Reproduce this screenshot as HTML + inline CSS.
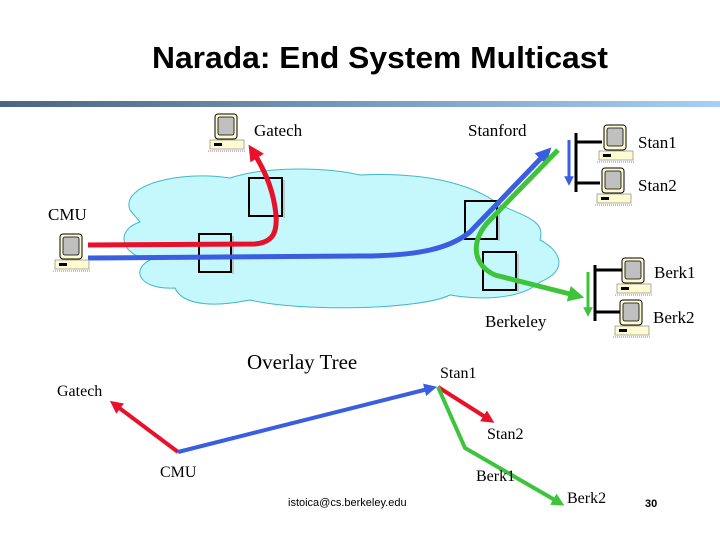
<!DOCTYPE html>
<html><head><meta charset="utf-8"><style>
html,body{margin:0;padding:0;background:#fff;width:720px;height:540px;overflow:hidden}
svg text{font-family:"Liberation Serif",serif}
</style></head><body>
<svg width="720" height="540" viewBox="0 0 720 540" xmlns="http://www.w3.org/2000/svg">
<defs>
<linearGradient id="g" x1="0" x2="1"><stop offset="0" stop-color="#4a6580"/><stop offset="1" stop-color="#a6d0f4"/></linearGradient>
<marker id="ar" viewBox="0 0 10 10" refX="6" refY="5" markerWidth="3.2" markerHeight="3.2" orient="auto"><path d="M0,0 L10,5 L0,10 z" fill="#e8102a"/></marker>
<marker id="ab" viewBox="0 0 10 10" refX="6" refY="5" markerWidth="3.2" markerHeight="3.2" orient="auto"><path d="M0,0 L10,5 L0,10 z" fill="#3a5ee0"/></marker>
<marker id="agr" viewBox="0 0 10 10" refX="6" refY="5" markerWidth="3.2" markerHeight="3.2" orient="auto"><path d="M0,0 L10,5 L0,10 z" fill="#3ec43a"/></marker>
<g id="pc">
<rect x="0" y="26" width="34" height="9" fill="#fffbd0" stroke="#888" stroke-width="0.7"/>
<rect x="4" y="29" width="8" height="3" fill="#000"/>
<rect x="5" y="0" width="22" height="25" rx="3" fill="#fffbd0" stroke="#000" stroke-width="1"/>
<rect x="8" y="3" width="16" height="18" rx="2" fill="#c0c0c0" stroke="#000" stroke-width="0.8"/>
<line x1="-2" y1="37" x2="36" y2="37" stroke="#c8a0c8" stroke-dasharray="1 1" stroke-width="1.5"/>
</g>
</defs>
<text x="380" y="68" text-anchor="middle" textLength="456" lengthAdjust="spacingAndGlyphs" style="font-family:'Liberation Sans',sans-serif;font-size:31px;font-weight:bold">Narada: End System Multicast</text>
<rect x="0" y="101" width="720" height="6" fill="url(#g)"/>
<path d="M130,210 C120,185 180,170 230,178 C270,165 330,168 360,175 C420,172 470,182 500,205 C530,218 545,222 540,240 C560,250 570,270 540,282 C520,300 480,300 450,295 C420,310 300,312 250,300 C200,310 180,300 175,288 C140,290 130,270 150,260 C120,255 115,230 140,222 Z" fill="#c4f8fc" stroke="#40b8c8" stroke-width="1"/>
<g fill="none" stroke="#000" stroke-width="2">
<rect x="249" y="178" width="33" height="38"/><rect x="199" y="234" width="32" height="38"/>
<rect x="465" y="201" width="32" height="38"/><rect x="483" y="252" width="33" height="38"/>
</g>
<g fill="none" stroke="#bbb" stroke-width="1.5">
<line x1="284" y1="180" x2="284" y2="218"/><line x1="233" y1="236" x2="233" y2="274"/>
<line x1="499" y1="203" x2="499" y2="241"/><line x1="518" y1="254" x2="518" y2="292"/>
</g>
<path d="M88,245 L255,244 C275,242 277,230 276,215 C274,195 268,175 252,150" fill="none" stroke="#e8102a" stroke-width="5" marker-end="url(#ar)"/>
<path d="M88,258 L360,256 C420,256 450,248 470,232 L547,152" fill="none" stroke="#3a5ee0" stroke-width="5" marker-end="url(#ab)"/>
<path d="M558,150 L490,220 C470,240 472,265 495,275 L578,296" fill="none" stroke="#3ec43a" stroke-width="5" marker-end="url(#agr)"/>
<g stroke="#000" stroke-width="3">
<line x1="576" y1="133" x2="576" y2="192"/><line x1="576" y1="142" x2="602" y2="142"/><line x1="576" y1="183" x2="600" y2="183"/>
<line x1="595" y1="265" x2="595" y2="321"/><line x1="595" y1="270" x2="622" y2="270"/><line x1="595" y1="312" x2="620" y2="312"/>
</g>
<path d="M569,140 L569,182" stroke="#3a5ee0" stroke-width="3" marker-end="url(#ab)"/>
<path d="M588,272 L588,313" stroke="#3ec43a" stroke-width="3" marker-end="url(#agr)"/>
<use href="#pc" x="210" y="114"/>
<use href="#pc" x="55" y="234"/>
<use href="#pc" x="599" y="125"/>
<use href="#pc" x="597" y="168"/>
<use href="#pc" x="617" y="258"/>
<use href="#pc" x="615" y="300"/>
<g font-size="17">
<text x="254" y="136">Gatech</text>
<text x="468" y="136">Stanford</text>
<text x="638" y="148">Stan1</text>
<text x="638" y="191">Stan2</text>
<text x="48" y="220">CMU</text>
<text x="654" y="278">Berk1</text>
<text x="653" y="323">Berk2</text>
<text x="485" y="327">Berkeley</text>
</g>
<text x="247" y="369" font-size="21">Overlay  Tree</text>
<path d="M178,452 L114,404" stroke="#e8102a" stroke-width="4" marker-end="url(#ar)"/>
<path d="M178,452 L432,388" stroke="#3a5ee0" stroke-width="4" marker-end="url(#ab)"/>
<path d="M438,387 L490,420" stroke="#e8102a" stroke-width="4" marker-end="url(#ar)"/>
<path d="M438,387 L465,448 L560,503" fill="none" stroke="#3ec43a" stroke-width="4" marker-end="url(#agr)"/>
<g font-size="16">
<text x="57" y="396">Gatech</text>
<text x="440" y="378">Stan1</text>
<text x="487" y="439">Stan2</text>
<text x="160" y="477">CMU</text>
<text x="476" y="481">Berk1</text>
<text x="567" y="503">Berk2</text>
</g>
<text x="288" y="506" style="font-family:'Liberation Sans',sans-serif;font-size:11px">istoica@cs.berkeley.edu</text>
<text x="645" y="507" style="font-family:'Liberation Sans',sans-serif;font-size:11px;font-weight:bold">30</text>
</svg>
</body></html>
